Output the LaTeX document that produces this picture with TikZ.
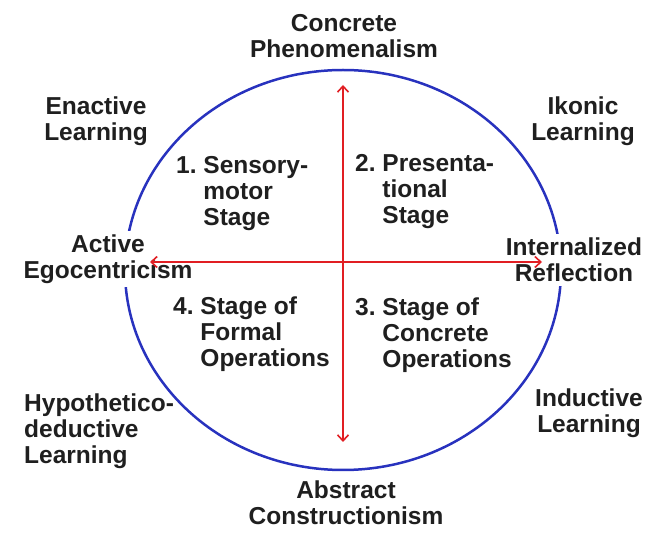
\documentclass[tikz,border=0pt]{standalone}
\usepackage{fontspec}
\setmainfont{Liberation Sans}
\usetikzlibrary{arrows.meta}
\definecolor{ringblue}{RGB}{40,50,190}
\definecolor{axisred}{RGB}{225,30,35}
\tikzset{
  lbl/.style={font=\bfseries\fontsize{24.5}{26}\selectfont, align=center,
    inner sep=0pt, text=black!88},
  stage/.style={lbl, align=left, anchor=west},
  axis/.style={draw=axisred, line width=1.6pt,
    {Straight Barb[length=6pt,width=11pt]}-{Straight Barb[length=6pt,width=11pt]}}
}
\newcommand{\hang}{\hphantom{1.~}}
\begin{document}
\begin{tikzpicture}[x=1pt,y=-1pt]
      \useasboundingbox (0,0) rectangle (646,545);
      \draw[ringblue, line width=2.5pt] (343,270) ellipse [x radius=218, y radius=200];
      \draw
        (344,36) node[lbl] (concrete){Concrete\\Phenomenalism}
        (346,503) node[lbl] (abstract){Abstract\\Constructionism}
        (96,121) node[lbl] (enactive){Enactive\\Learning}
        (583,121) node[lbl] (ikonic){Ikonic\\Learning}
        (108,259) node[lbl, fill=white, inner ysep=4pt, inner xsep=1pt] (active){Active\\Egocentricism}
        (574,260) node[lbl, fill=white, inner ysep=4pt, inner xsep=1pt] (internal){Internalized\\Reflection}
        (24,431) node[lbl, align=left, anchor=west] (hypo){Hypothetico-\\deductive\\Learning}
        (589,413) node[lbl] (inductive){Inductive\\Learning}
        (176,194) node[stage] (s1){1.~Sensory-\\\hang motor\\\hang Stage}
        (355,192) node[stage] (s2){2.~Presenta-\\\hang tional\\\hang Stage}
        (355,335) node[stage] (s3){3.~Stage of\\\hang Concrete\\\hang Operations}
        (173,334) node[stage] (s4){4.~Stage of\\\hang Formal\\\hang Operations};
      \coordinate (top) at (343,85);
      \coordinate (bottom) at (343,442);
      \coordinate (left) at (150,262);
      \coordinate (right) at (542,262);
      \begin{scope}[axis]
        \draw (top) to (bottom);
        \draw (left) to (right);
      \end{scope}
    \end{tikzpicture}
\end{document}
